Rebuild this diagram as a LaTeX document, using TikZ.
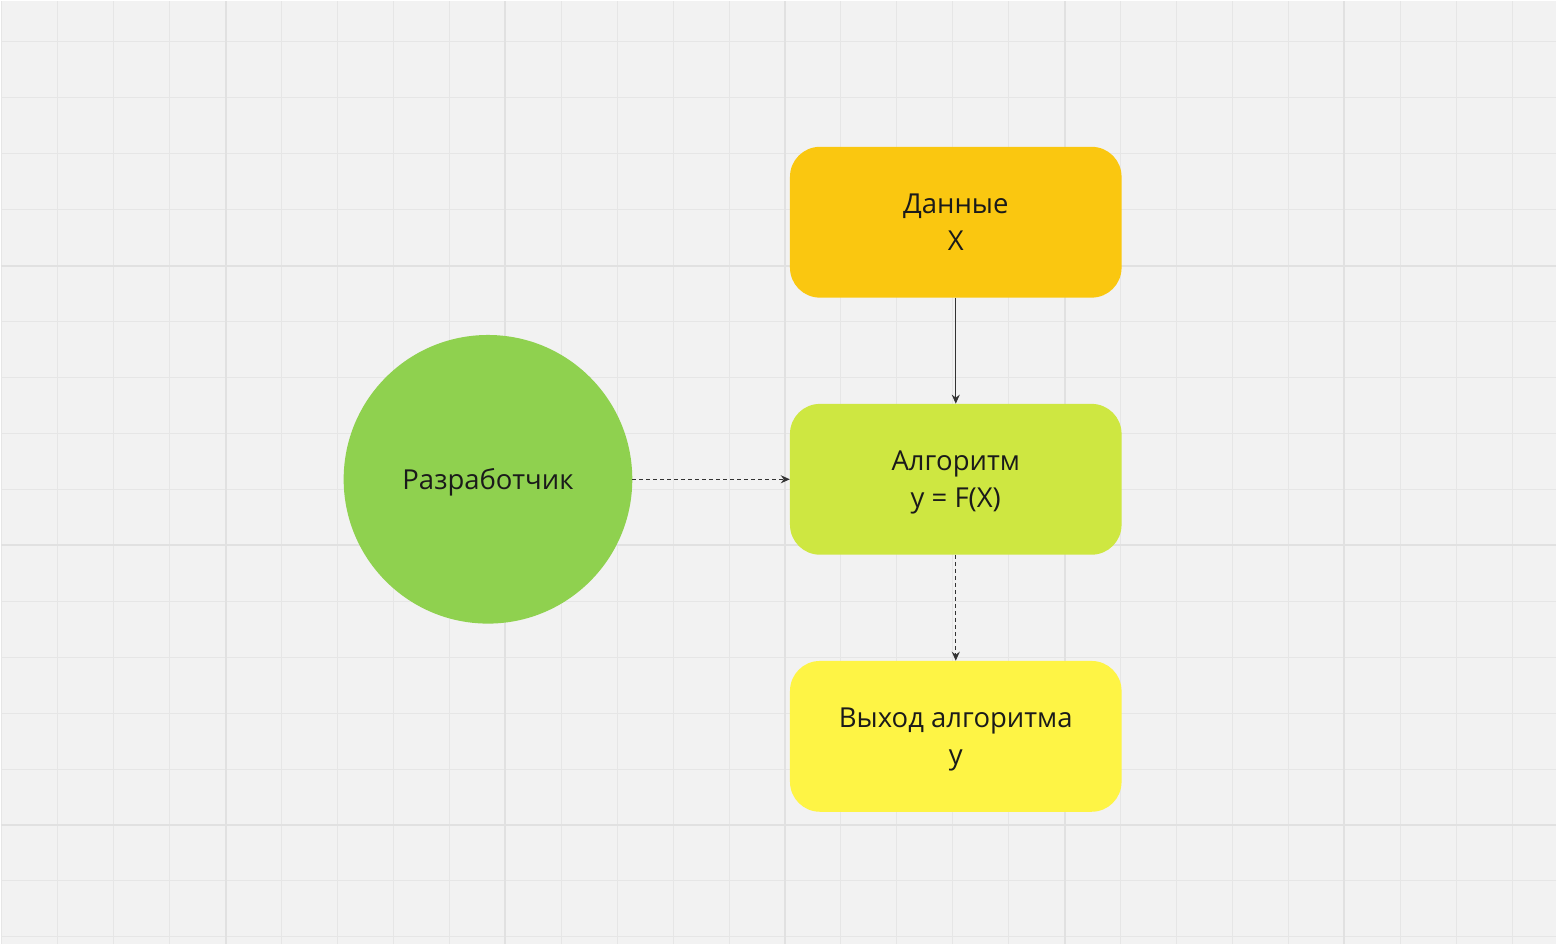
\documentclass[tikz,border=0pt]{standalone}
\usepackage{fontspec}
\setmainfont{Open Sans}
\usetikzlibrary{arrows.meta, positioning}

\definecolor{bg}{HTML}{F2F2F2}
\definecolor{gridminor}{HTML}{E6E6E6}
\definecolor{gridmajor}{HTML}{E1E1E1}
\definecolor{datacol}{HTML}{FAC710}
\definecolor{algocol}{HTML}{CEE741}
\definecolor{outcol}{HTML}{FEF445}
\definecolor{devcol}{HTML}{8FD14F}
\definecolor{txt}{HTML}{1A1A1A}
\definecolor{linecol}{HTML}{333333}

\begin{document}
\begin{tikzpicture}[
    x=1pt, y=-1pt,
    font=\fontsize{27.5}{37}\selectfont,
    box/.style={rounded corners=30pt, minimum width=332pt, minimum height=151pt,
        inner sep=0pt, align=center, text=txt, text depth=0pt},
    person/.style={circle, minimum size=289pt, inner sep=0pt, text=txt, text depth=0pt},
    vec/.style={-{Stealth[length=9pt, width=8pt]}, line width=1.3pt, draw=linecol},
    flow/.style={vec, dash pattern=on 4pt off 3pt}
]

% Hintergrund und Raster
\fill[bg] (0,0) rectangle (1557,944);
\foreach \i in {0,...,27}
    \draw[gridminor, line width=1pt] ({1+56*\i},0) -- ({1+56*\i},944);
\foreach \j in {0,...,16}
    \draw[gridminor, line width=1pt] (0,{41+56*\j}) -- (1557,{41+56*\j});
\foreach \x in {225,505,...,1345}
    \draw[gridmajor, line width=2pt] (\x,0) -- (\x,944);
\foreach \y in {265,545,825}
    \draw[gridmajor, line width=2pt] (0,\y) -- (1557,\y);

% Knoten
\node[box, fill=datacol] (daten) at (956,221.5) {Данные\\X};
\node[box, fill=algocol, below=106pt of daten] (algo) {Алгоритм\\y = F(X)};
\node[box, fill=outcol, below=106pt of algo] (ausgabe) {Выход алгоритма\\y};
\node[person, fill=devcol, left=157.5pt of algo] (dev) {Разработчик};

% Verbindungen
\draw[vec] (daten) -- (algo);
\draw[flow] (dev) -- (algo);
\draw[flow] (algo) -- (ausgabe);

\end{tikzpicture}
\end{document}
